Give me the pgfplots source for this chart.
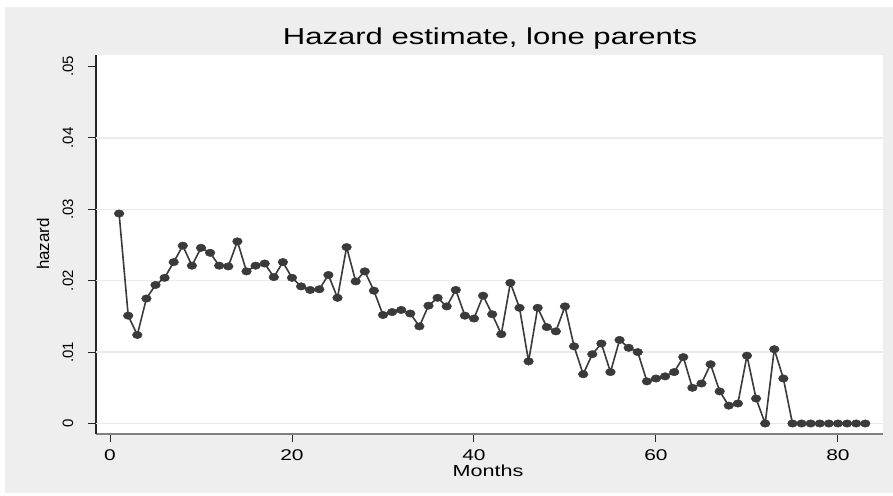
\documentclass[border=0pt]{standalone}
\usepackage{fontspec}
\setmainfont[FakeStretch=1.35]{Liberation Sans}
\newfontfamily\rotfont{Liberation Sans}
\usepackage{pgfplots}
\pgfplotsset{compat=1.18}
\definecolor{bggray}{HTML}{EEEEEE}
\definecolor{linec}{HTML}{3A3A3A}
\definecolor{gridc}{HTML}{EBEBEB}
\pgfplotstableread{
m h
1 0.0294
2 0.0151
3 0.0124
4 0.0175
5 0.0194
6 0.0204
7 0.0226
8 0.0249
9 0.0221
10 0.0246
11 0.0239
12 0.0221
13 0.0220
14 0.0255
15 0.0213
16 0.0221
17 0.0224
18 0.0205
19 0.0226
20 0.0204
21 0.0192
22 0.0187
23 0.0188
24 0.0208
25 0.0176
26 0.0247
27 0.0199
28 0.0213
29 0.0186
30 0.0152
31 0.0156
32 0.0159
33 0.0154
34 0.0136
35 0.0165
36 0.0176
37 0.0164
38 0.0187
39 0.0151
40 0.0147
41 0.0179
42 0.0153
43 0.0125
44 0.0197
45 0.0162
46 0.0087
47 0.0162
48 0.0135
49 0.0129
50 0.0164
51 0.0108
52 0.0069
53 0.0097
54 0.0112
55 0.0072
56 0.0117
57 0.0106
58 0.0100
59 0.0059
60 0.0063
61 0.0066
62 0.0072
63 0.0093
64 0.0050
65 0.0056
66 0.0083
67 0.0045
68 0.0025
69 0.0028
70 0.0095
71 0.0035
72 0
73 0.0104
74 0.0063
75 0
76 0
77 0
78 0
79 0
80 0
81 0
82 0
83 0
}\hazard
\begin{document}
\begin{tikzpicture}[x=1pt,y=1pt]
\fill[white] (-96,-61) rectangle (797,434);
\fill[bggray] (-91,-59) rectangle (797,427);
\begin{axis}[
  at={(0,0)}, anchor=south west,
  scale only axis, width=787pt, height=379pt,
  xmin=-1.54, xmax=84.95, ymin=-0.00147, ymax=0.0516,
  axis lines=left, axis line style={-},
  x axis line style={draw=black!50, line width=1.5pt},
  y axis line style={draw=black!85, line width=1.2pt},
  axis background/.style={fill=white},
  tick align=outside, major tick length=8pt,
  tick style={draw=black!85, line width=1pt},
  scaled y ticks=false, scaled x ticks=false,
  xtick={0,20,40,60,80}, xticklabels={0,20,40,60,80},
  ytick={0,0.01,0.02,0.03,0.04,0.05}, yticklabels={0,.01,.02,.03,.04,.05},
  xticklabel style={font=\fontsize{15.5}{15.5}\selectfont, anchor=base, inner sep=0pt, yshift=-18pt},
  yticklabel style={font=\rotfont\fontsize{15}{15}\selectfont, xshift=-15pt, rotate=90, anchor=base, inner sep=0pt},
  extra y ticks={0,0.01,0.02,0.03,0.04},
  extra y tick labels={},
  extra y tick style={grid=major, major tick length=0pt, major grid style={draw=gridc, line width=1.5pt}},
  clip=false,
]
\addplot[color=linec, line width=1.6pt, mark=*, mark size=3.7pt,
  mark options={xscale=1.3, fill=linec, draw=linec, line width=0.5pt}] table[x=m, y=h] {\hazard};
\end{axis}
\node[anchor=base, inner sep=0pt] at (394,389) {\fontsize{23}{23}\selectfont Hazard estimate, lone parents};
\node[anchor=base, inner sep=0pt] at (392,-42) {\fontsize{16}{16}\selectfont Months};
\node[anchor=base, inner sep=0pt, rotate=90] at (-47,190) {\rotfont\fontsize{17}{17}\selectfont hazard};
\end{tikzpicture}
\end{document}
